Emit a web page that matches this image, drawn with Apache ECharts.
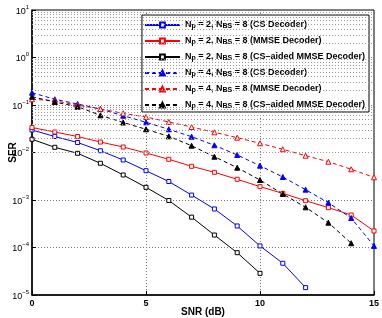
<!DOCTYPE html>
<html><head><meta charset="utf-8">
<script src="https://cdn.jsdelivr.net/npm/echarts@6/dist/echarts.min.js"></script>
<style>html,body{margin:0;padding:0;background:#fff}#c{width:382px;height:318px}</style>
</head><body><div id="c"></div>
<script>
const snr = [0,1,2,3,4,5,6,7,8,9,10,11,12,13,14,15];
const np2CS    = [0.0298,0.0217,0.01625,0.0109,0.00695,0.00414,0.00245,0.00127,0.000647,0.000284,0.000108,0.0000465,0.0000143,null,null,null];
const np2MMSE  = [0.0336,0.0270,0.0217,0.0166,0.01305,0.00976,0.00719,0.00512,0.00383,0.00273,0.00191,0.00138,0.000967,0.000689,0.000483,0.000223];
const np2Aided = [0.0190,0.01286,0.00962,0.00593,0.00336,0.00185,0.000976,0.000435,0.000183,0.0000778,0.0000286,null,null,null,null,null];
const np4CS    = [0.1815,0.132,0.105,0.0824,0.0595,0.0432,0.0308,0.0215,0.0142,0.00886,0.00527,0.00305,0.00165,0.000877,0.000418,0.000108];
const np4MMSE  = [0.132,0.123,0.0986,0.0824,0.0669,0.0559,0.0439,0.0344,0.0266,0.0205,0.0156,0.0117,0.00857,0.0064,0.00443,0.0030];
const np4Aided = [0.1496,0.1156,0.0921,0.0607,0.0428,0.0308,0.0219,0.0139,0.00816,0.00479,0.00264,0.00134,0.000702,0.000333,0.000123,null];
const xTicks = [0,5,10,15];
const decades = [-5,-4,-3,-2,-1,0,1];
const legendNames = [
  'N{sub|p} = 2, N{sub|BS} = 8 (CS Decoder)',
  'N{sub|p} = 2, N{sub|BS} = 8 (MMSE Decoder)',
  'N{sub|p} = 2, N{sub|BS} = 8 (CS\u2013aided MMSE Decoder)',
  'N{sub|p} = 4, N{sub|BS} = 8 (CS Decoder)',
  'N{sub|p} = 4, N{sub|BS} = 8 (MMSE Decoder)',
  'N{sub|p} = 4, N{sub|BS} = 8 (CS\u2013aided MMSE Decoder)'
];
const seriesNames = ['s1','s2','s3','s4','s5','s6'];

const FONT = 'Liberation Sans';
const zip = arr => snr.map((x,i)=>[x, arr[i]]);
const minorVals = [];
for (let d = -5; d <= 0; d++) for (let m = 2; m <= 9; m++) minorVals.push(m*Math.pow(10,d));

function mk(name, data, color, dashed, symbol, fill) {
  return {
    name, type:'line', data: zip(data), connectNulls:false,
    symbol, symbolSize: symbol.indexOf('riangle')>=0 ? 5 : 4,
    lineStyle:{color, width:1, type: dashed ? [4,3] : 'solid'},
    itemStyle:{color: fill, borderColor: color, borderWidth:1},
    emphasis:{disabled:true}, z:3
  };
}

const chart = echarts.init(document.getElementById('c'), null, {renderer:'canvas'});
chart.setOption({
  animation:false,
  backgroundColor:'#fff',
  grid:{left:32, right:8, top:10, bottom:23, outerBoundsMode:'none', containLabel:false,
    show:true, borderColor:'#000', borderWidth:1, backgroundColor:'transparent'},
  xAxis:{
    type:'value', min:0, max:15, interval:5,
    name:'SNR (dB)', nameLocation:'middle', nameGap:12, nameMoveOverlap:false,
    nameTextStyle:{fontFamily:FONT, fontWeight:'bold', fontSize:10, color:'#000'},
    axisLine:{lineStyle:{color:'#000', width:1.5}},
    axisTick:{inside:true, length:4, lineStyle:{color:'#000'}},
    axisLabel:{fontFamily:FONT, fontWeight:'bold', fontSize:9, color:'#000', margin:4},
    splitLine:{show:true, lineStyle:{type:[1,2], color:'#777', width:1}}
  },
  yAxis:{
    type:'log', logBase:10, min:1e-5, max:10,
    name:'SER', nameLocation:'middle', nameGap:14, nameMoveOverlap:false,
    nameTextStyle:{fontFamily:FONT, fontWeight:'bold', fontSize:10, color:'#000'},
    axisLine:{lineStyle:{color:'#000', width:1.5}},
    axisTick:{inside:true, length:4, lineStyle:{color:'#000'}},
    axisLabel:{
      margin:3, color:'#000',
      formatter: v => '{b|10}{s|' + String(Math.round(Math.log10(v))).replace('-','\u2212') + '}',
      rich:{
        b:{fontFamily:FONT, fontSize:9, color:'#000', verticalAlign:'bottom', lineHeight:12},
        s:{fontFamily:FONT, fontSize:6, color:'#000', verticalAlign:'top', lineHeight:12}
      }
    },
    splitLine:{show:true, lineStyle:{type:[1,2], color:'#777', width:1}}
  },
  legend:{
    data: seriesNames, orient:'vertical', right:13, top:15,
    backgroundColor:'#fff', borderColor:'#000', borderWidth:1,
    padding:[3,4,2,2], itemGap:4, itemWidth:35, itemHeight:6,
    formatter: n => legendNames[seriesNames.indexOf(n)],
    textStyle:{
      fontFamily:FONT, fontWeight:'bold', fontSize:9, color:'#000', lineHeight:10,
      rich:{sub:{fontFamily:FONT, fontWeight:'bold', fontSize:7, color:'#000', verticalAlign:'bottom', lineHeight:10, padding:[5,0,0,0]}}
    }
  },
  series:[
    mk('s1', np2CS, '#0000ff', false, 'rect', '#fff'),
    mk('s2', np2MMSE, '#ff0000', false, 'rect', '#fff'),
    mk('s3', np2Aided, '#000000', false, 'rect', '#fff'),
    mk('s4', np4CS, '#0000ff', true, 'triangle', '#0000ff'),
    mk('s5', np4MMSE, '#ff0000', true, 'triangle', '#fff'),
    mk('s6', np4Aided, '#000000', true, 'triangle', '#000'),
    {
      name:'minor', type:'line', data:[], silent:true, z:1,
      markLine:{silent:true, symbol:['none','none'], label:{show:false}, animation:false,
        lineStyle:{type:[1,2], color:'#999', width:1},
        emphasis:{disabled:true},
        data: minorVals.map(v=>({yAxis:v}))}
    }
  ]
});
</script></body></html>
